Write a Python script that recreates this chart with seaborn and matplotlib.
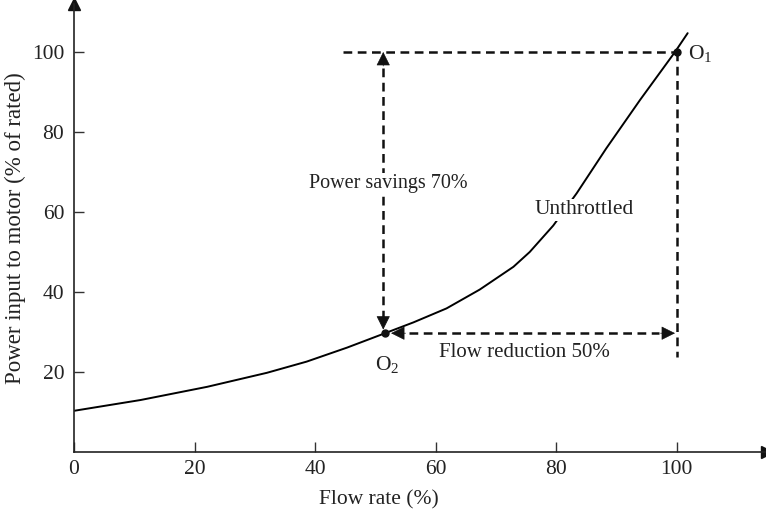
import matplotlib
matplotlib.use("Agg")
import matplotlib.pyplot as plt
import seaborn as sns
import pandas as pd

# Data
flow = [0, 11.05, 22.1, 32, 38.6, 45.3, 51.6, 56.3, 61.8, 67.3, 72.9, 75.6, 79.5, 83.4, 88.3, 93.9, 99.7, 101.8]
power = [10.3, 13, 16.3, 19.8, 22.6, 26.1, 29.7, 32.4, 35.9, 40.6, 46.3, 50.0, 56.6, 64.7, 75.9, 88, 100, 104.7]
x_ticks = [0, 20, 40, 60, 80, 100]
y_ticks = [20, 40, 60, 80, 100]
o1 = (100, 100)
o2 = (51.6, 29.7)

sns.set_style("ticks")
plt.rcParams['font.family'] = ['Liberation Serif', 'DejaVu Serif']
plt.rcParams['mathtext.fontset'] = 'custom'
plt.rcParams['mathtext.rm'] = 'Liberation Serif'
plt.rcParams['mathtext.it'] = 'Liberation Serif:italic'

FS = 15.5

fig = plt.figure(figsize=(7.66, 5.15), dpi=100)
ax = fig.add_axes([0.0966, 0.1223, 0.905, 0.87])

df = pd.DataFrame({"flow": flow, "power": power})
sns.lineplot(data=df, x="flow", y="power", ax=ax, color="black", linewidth=1.4, sort=False)

ax.set_xlim(0, 115)
ax.set_ylim(0, 112)
ax.set_xticks(x_ticks)
ax.set_yticks(y_ticks)
ax.tick_params(direction="in", length=7, width=1, colors="#333333", labelcolor="#222222", labelsize=FS)
ax.tick_params(axis="x", pad=6)
ax.tick_params(axis="y", pad=7)
for s in ["top", "right"]:
    ax.spines[s].set_visible(False)
for s in ["left", "bottom"]:
    ax.spines[s].set_color("#222222")
    ax.spines[s].set_linewidth(1.2)

# axis arrows
ax.plot(1, 0, ">", color="#111111", markersize=9, transform=ax.transAxes, clip_on=False)
ax.plot(0, 1, "^", color="#111111", markersize=9, transform=ax.transAxes, clip_on=False)

ax.set_xlabel("Flow rate (%)", fontsize=FS, color="#222222", labelpad=8)
ax.xaxis.label.set_x(50.5 / 115)
ax.set_ylabel("Power input to motor (% of rated)", fontsize=16.5, color="#222222", labelpad=4)

dash = (0, (3.5, 2.2))
lw = 1.8
# horizontal dashed at O1 level
ax.plot([44.6, o1[0]], [o1[1], o1[1]], color="#111111", lw=lw, linestyle=dash)
# vertical dashed from O1 down
ax.plot([o1[0], o1[0]], [o1[1], 23.7], color="#111111", lw=lw, linestyle=dash)
# vertical double arrow (power savings)
xv = 51.3
ax.plot([xv, xv], [96, 33.5], color="#111111", lw=lw, linestyle=dash)
# horizontal double arrow (flow reduction)
ax.plot([55.5, 97], [o2[1], o2[1]], color="#111111", lw=lw, linestyle=dash)

def head(tip, tail):
    ax.annotate("", xy=tip, xytext=tail,
                arrowprops=dict(arrowstyle="-|>", color="#111111", lw=0.5,
                                mutation_scale=22, shrinkA=0, shrinkB=0))

head((xv, 100), (xv, 96.5))
head((xv, 30.6), (xv, 34.1))
head((52.6, o2[1]), (55.0, o2[1]))
head((99.7, o2[1]), (97.3, o2[1]))

# points
ax.plot(*o1, "o", color="#111111", markersize=5)
ax.plot(*o2, "o", color="#111111", markersize=5)

ax.text(101.8, 99.5, "O$_1$", fontsize=FS, ha="left", va="center", color="#222222")
ax.text(o2[0] + 0.3, 24.5, "O$_2$", fontsize=FS, ha="center", va="top", color="#222222")
ax.text(52.2, 67, "Power savings 70%", fontsize=14.5, ha="center", va="center", color="#222222",
        bbox=dict(facecolor="white", edgecolor="none", pad=1))
ax.text(84.7, 60.5, "Unthrottled", fontsize=15.5, ha="center", va="center", color="#222222",
        bbox=dict(facecolor="white", edgecolor="none", pad=1))
ax.text(74.8, 25, "Flow reduction 50%", fontsize=15, ha="center", va="center", color="#222222")

fig.savefig("out.png", dpi=100)
